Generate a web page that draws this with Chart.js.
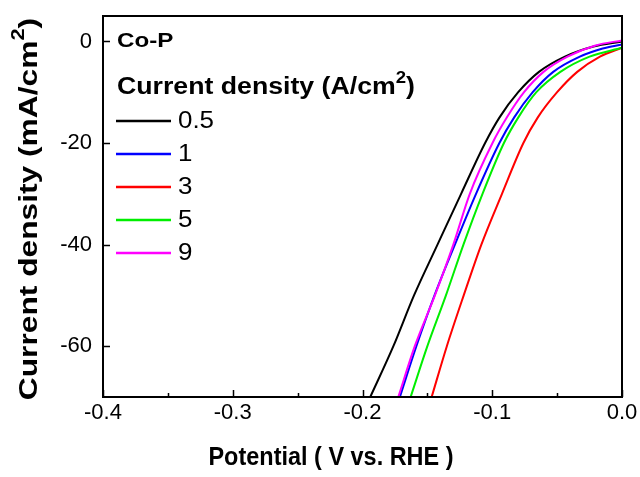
<!DOCTYPE html>
<html lang="en">
<head>
  <meta charset="UTF-8">
  <title>Co-P polarization curves</title>
  <script src="https://cdn.jsdelivr.net/npm/chart.js"></script>
  <style>
    body { margin: 0; background: #fff; }
    #wrap { width: 640px; height: 477px; }
  </style>
</head>
<body>
  <div id="wrap"><canvas id="lsv" width="640" height="477"></canvas></div>

  <script>
    // Series data (potential in V vs RHE, current density in mA/cm2)
    const seriesLabels = ['0.5', '1', '3', '5', '9'];
    const seriesColors = ['#000000', '#0000ff', '#ff0000', '#00ee00', '#ff00ff'];

    const v05 = [-0.1940, -0.1762, -0.1603, -0.1422, -0.1240, -0.1055, -0.0945, -0.0800, -0.0640, -0.0440, -0.0220, 0];
    const j05 = [-70, -60, -50, -40, -30, -20, -15, -10, -6, -3, -1, 0];

    const v1 = [-0.1712, -0.1585, -0.1445, -0.1288, -0.1125, -0.0945, -0.0832, -0.0688, -0.0530, -0.0325, -0.0149, 0];
    const j1 = [-70, -60, -50, -40, -30, -20, -15, -10, -6, -3, -1.4, -0.6];

    const v3 = [-0.1467, -0.1350, -0.1220, -0.1084, -0.0925, -0.0760, -0.0650, -0.0500, -0.0345, -0.0170, 0];
    const j3 = [-70, -60, -50, -40, -30, -20, -15, -10, -6, -3, -1.25];

    const v5 = [-0.1629, -0.1500, -0.1357, -0.1222, -0.1075, -0.0910, -0.0800, -0.0660, -0.0475, -0.0250, 0];
    const j5 = [-70, -60, -50, -40, -30, -20, -15, -10, -6, -3, -1.25];

    const v9 = [-0.1724, -0.1597, -0.1442, -0.1300, -0.1173, -0.0998, -0.0888, -0.0755, -0.0605, -0.0420, -0.0204, 0];
    const j9 = [-70, -60, -50, -40, -30, -20, -15, -10, -6, -3, -0.8, 0.2];

    const xTicks = [-0.4, -0.3, -0.2, -0.1, 0.0];
    const xMinorTicks = [-0.35, -0.25, -0.15, -0.05];
    const yTicks = [0, -20, -40, -60];

    const xs = [v05, v1, v3, v5, v9];
    const ys = [j05, j1, j3, j5, j9];
    const drawOrder = [2, 1, 4, 3, 0]; // magenta on top, red at the back

    const FONT = 'Arial, "Liberation Sans", sans-serif';

    // draw text; sx stretches along the text, sy across it
    function txt(ctx, s, x, y, size, bold, align, sx, sy, rot) {
      ctx.save();
      ctx.translate(x, y);
      if (rot) ctx.rotate(rot);
      ctx.scale(sx || 1, sy || 1);
      ctx.font = (bold ? 'bold ' : '') + size + 'px ' + FONT;
      ctx.textAlign = align || 'left';
      ctx.textBaseline = 'middle';
      ctx.fillStyle = '#000';
      ctx.fillText(s, 0, 0);
      ctx.restore();
    }

    // bold text + superscript "2" + closing bracket
    function supText(ctx, pre, post, x, y, size, supSize, sx, rot) {
      ctx.save();
      ctx.translate(x, y);
      if (rot) ctx.rotate(rot);
      ctx.scale(sx, 1);
      ctx.fillStyle = '#000';
      ctx.textBaseline = 'middle';
      ctx.textAlign = 'left';
      ctx.font = 'bold ' + size + 'px ' + FONT;
      const w1 = ctx.measureText(pre).width;
      const w3 = ctx.measureText(post).width;
      ctx.font = 'bold ' + supSize + 'px ' + FONT;
      const w2 = ctx.measureText('2').width;
      let x0 = rot ? -(w1 + w2 + w3) / 2 : 0;
      ctx.font = 'bold ' + size + 'px ' + FONT;
      ctx.fillText(pre, x0, 0);
      ctx.fillText(post, x0 + w1 + w2, 0);
      ctx.font = 'bold ' + supSize + 'px ' + FONT;
      ctx.fillText('2', x0 + w1, -size * 0.42);
      ctx.restore();
    }

    const framePlugin = {
      id: 'frame',
      afterDraw(chart) {
        const ctx = chart.ctx;
        const a = chart.chartArea;
        const sx = chart.scales.x, sy = chart.scales.y;

        ctx.save();
        ctx.strokeStyle = '#000';
        ctx.lineWidth = 2;
        ctx.strokeRect(a.left, a.top, a.right - a.left, a.bottom - a.top);

        // inward ticks
        ctx.lineWidth = 1.5;
        ctx.beginPath();
        xTicks.forEach(v => {
          const px = Math.round(sx.getPixelForValue(v)) + 0.5;
          ctx.moveTo(px, a.bottom); ctx.lineTo(px, a.bottom - 7);
        });
        xMinorTicks.forEach(v => {
          const px = Math.round(sx.getPixelForValue(v)) + 0.5;
          ctx.moveTo(px, a.bottom); ctx.lineTo(px, a.bottom - 4);
        });
        yTicks.forEach(v => {
          const py = Math.round(sy.getPixelForValue(v)) + 0.5;
          ctx.moveTo(a.left, py); ctx.lineTo(a.left + 7, py);
        });
        ctx.stroke();
        ctx.restore();

        // tick labels
        xTicks.forEach(v => {
          txt(ctx, v.toFixed(1), sx.getPixelForValue(v), a.bottom + 16, 21, false, 'center', 1.05, 1.08);
        });
        yTicks.forEach(v => {
          txt(ctx, String(v), a.left - 11, sy.getPixelForValue(v), 21, false, 'right', 1.05, 1.08);
        });

        // axis titles
        txt(ctx, 'Potential ( V vs. RHE )', 331, 458, 23, true, 'center', 1.02, 1.1);
        supText(ctx, 'Current density (mA/cm', ')', 30, 209, 26, 18, 1.22, -Math.PI / 2);

        // in-plot labels and legend
        txt(ctx, 'Co-P', 117, 41, 21, true, 'left', 1.15);
        supText(ctx, 'Current density (A/cm', ')', 117, 88, 23, 16, 1.16, 0);
        const rowY = [121, 154, 187, 220, 253];
        seriesLabels.forEach((lab, i) => {
          ctx.save();
          ctx.strokeStyle = seriesColors[i];
          ctx.lineWidth = 2.5;
          ctx.beginPath();
          ctx.moveTo(116, rowY[i]); ctx.lineTo(171, rowY[i]);
          ctx.stroke();
          ctx.restore();
          txt(ctx, lab, 178, rowY[i], 24, false, 'left', 1.08);
        });
      }
    };

    const datasets = seriesLabels.map((lab, i) => ({
      label: lab,
      data: xs[i].map((v, k) => ({ x: v, y: ys[i][k] })),
      borderColor: seriesColors[i],
      borderWidth: 2,
      pointRadius: 0,
      fill: false,
      cubicInterpolationMode: 'monotone',
      order: drawOrder[i]
    }));

    new Chart(document.getElementById('lsv').getContext('2d'), {
      type: 'line',
      data: { datasets },
      plugins: [framePlugin],
      options: {
        responsive: false,
        animation: false,
        layout: { padding: { top: 16, right: 18, left: 0, bottom: 0 } },
        plugins: { legend: { display: false }, tooltip: { enabled: false } },
        scales: {
          x: {
            type: 'linear', min: -0.4, max: 0,
            grid: { display: false, drawTicks: false },
            border: { display: false },
            ticks: { display: false },
            afterFit(scale) { scale.height = 80; }
          },
          y: {
            type: 'linear', min: -70, max: 5,
            grid: { display: false, drawTicks: false },
            border: { display: false },
            ticks: { display: false },
            afterFit(scale) { scale.width = 103; }
          }
        }
      }
    });
  </script>
</body>
</html>
